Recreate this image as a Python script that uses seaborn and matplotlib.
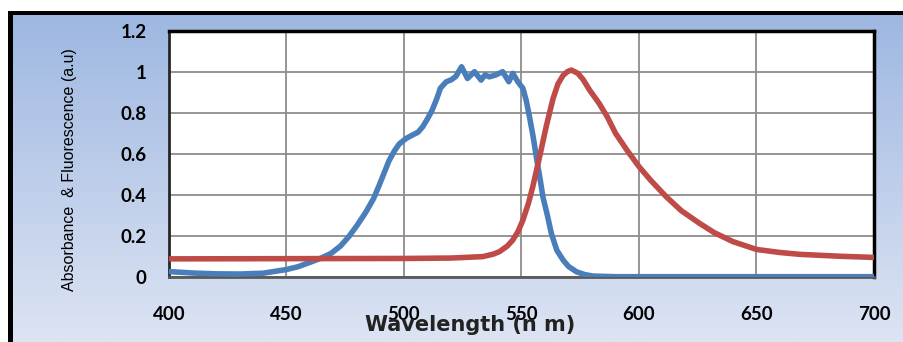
import numpy as np
import pandas as pd
import seaborn as sns
import matplotlib.pyplot as plt
from matplotlib.patches import Rectangle

# %% data
abs_wl = [400, 410, 420, 430, 440, 450, 455, 460, 465, 469, 473, 476.5, 480, 483.6, 487,
          489.3, 491.5, 493.6, 496, 498, 501, 503.6, 506, 508, 510, 512, 514, 515.5, 518,
          520, 522, 524.5, 527, 530, 532.8, 534.5, 536.3, 539, 542, 544.6, 546.3, 548.5,
          550.6, 552, 553.4, 555, 556.3, 558, 559.1, 561, 562.7, 565, 567.7, 570, 573.4,
          577, 580.5, 590, 600, 650, 700]
abs_val = [0.025, 0.018, 0.014, 0.013, 0.017, 0.035, 0.049, 0.07, 0.092, 0.114, 0.15, 0.195,
           0.25, 0.312, 0.38, 0.442, 0.505, 0.565, 0.615, 0.648, 0.675, 0.691, 0.705, 0.732,
           0.77, 0.813, 0.87, 0.92, 0.951, 0.96, 0.976, 1.024, 0.967, 1.0, 0.959, 0.985,
           0.975, 0.984, 1.0, 0.951, 0.992, 0.95, 0.919, 0.86, 0.78, 0.68, 0.585, 0.47,
           0.39, 0.3, 0.211, 0.13, 0.081, 0.05, 0.024, 0.01, 0.003, 0.0, 0.0, 0.0, 0.0]

fl_wl = [400, 450, 500, 520, 533.5, 538, 540.6, 544, 546.3, 548.5, 550.6, 553, 554.8, 557.7,
         560.5, 563.4, 565.5, 567.7, 569.5, 571.2, 574, 576.2, 579, 583, 586.5, 590, 595,
         600, 605, 611.6, 618, 625.8, 632, 640, 650, 660, 668.5, 685, 700]
fl_val = [0.087, 0.088, 0.089, 0.091, 0.098, 0.11, 0.122, 0.15, 0.179, 0.22, 0.276, 0.36,
          0.439, 0.585, 0.732, 0.868, 0.94, 0.982, 1.0, 1.008, 0.992, 0.962, 0.91, 0.846,
          0.78, 0.70, 0.615, 0.537, 0.47, 0.39, 0.322, 0.26, 0.215, 0.171, 0.133, 0.118,
          0.109, 0.1, 0.094]

x_ticks = [400, 450, 500, 550, 600, 650, 700]
y_ticks = [0, 0.2, 0.4, 0.6, 0.8, 1, 1.2]
y_tick_labels = ['0', '0.2', '0.4', '0.6', '0.8', '1', '1.2']

df_abs = pd.DataFrame({'wl': abs_wl, 'val': abs_val})
df_fl = pd.DataFrame({'wl': fl_wl, 'val': fl_val})

# %% figure + gradient background
W, H = 904, 342
fig = plt.figure(figsize=(W / 100, H / 100), dpi=100)

bg = fig.add_axes([0, 0, 1, 1], zorder=0)
bg.set_xlim(0, W)
bg.set_ylim(H, 0)
bg.axis('off')
top_c = np.array([157, 183, 225]) / 255
bot_c = np.array([221, 228, 243]) / 255
t = np.linspace(0, 1, 256)[:, None]
grad = (top_c[None, :] * (1 - t) + bot_c[None, :] * t)[:, None, :]
bg.imshow(grad, extent=(8, W, H, 11), aspect='auto')
bg.add_patch(Rectangle((8, 11), W - 8, 4, color='black', lw=0))
bg.add_patch(Rectangle((8, 11), 5, H - 11, color='black', lw=0))

# %% main plot
ax = fig.add_axes([169 / W, 1 - 276.7 / H, (874 - 169) / W, (276.7 - 30.7) / H], zorder=2)
ax.set_facecolor('white')

sns.lineplot(data=df_abs, x='wl', y='val', ax=ax, color='#4A7EBB', lw=4, zorder=3)
sns.lineplot(data=df_fl, x='wl', y='val', ax=ax, color='#BE4B48', lw=4, zorder=4)

ax.set_xlim(400, 700)
ax.set_ylim(0, 1.2)
ax.set_xticks(x_ticks)
ax.set_yticks(y_ticks)
ax.set_yticklabels(y_tick_labels)
ax.grid(True, color='#8C8C8C', lw=1.3)
ax.set_axisbelow(True)
ax.tick_params(axis='both', length=0, labelsize=13.5)
ax.tick_params(axis='y', pad=16)
ax.tick_params(axis='x', pad=21)
for lab in ax.get_xticklabels() + ax.get_yticklabels():
    lab.set_fontfamily('Lato')
    lab.set_fontweight('bold')
ax.set_xlabel('')
ax.set_ylabel('')

for side in ['top', 'right']:
    ax.spines[side].set_color('black')
    ax.spines[side].set_linewidth(2.5)
ax.spines['left'].set_color('#262626')
ax.spines['left'].set_linewidth(2)
ax.spines['bottom'].set_color('#595959')
ax.spines['bottom'].set_linewidth(2)

# axis titles placed like the original (x title overlaps tick labels there too)
fig.text(470 / W, 1 - 325 / H, 'Wavelength (n m)', ha='center', va='center',
         fontsize=15, fontweight='heavy', family='DejaVu Sans', color='#222222', zorder=5)
fig.text(70 / W, 1 - 170 / H, 'Absorbance  & Fluorescence (a.u)', rotation=90,
         ha='center', va='center', fontsize=11.5,
         family=['Liberation Sans Narrow', 'Liberation Sans', 'DejaVu Sans'], zorder=5)

fig.savefig('out.png', dpi=100)
